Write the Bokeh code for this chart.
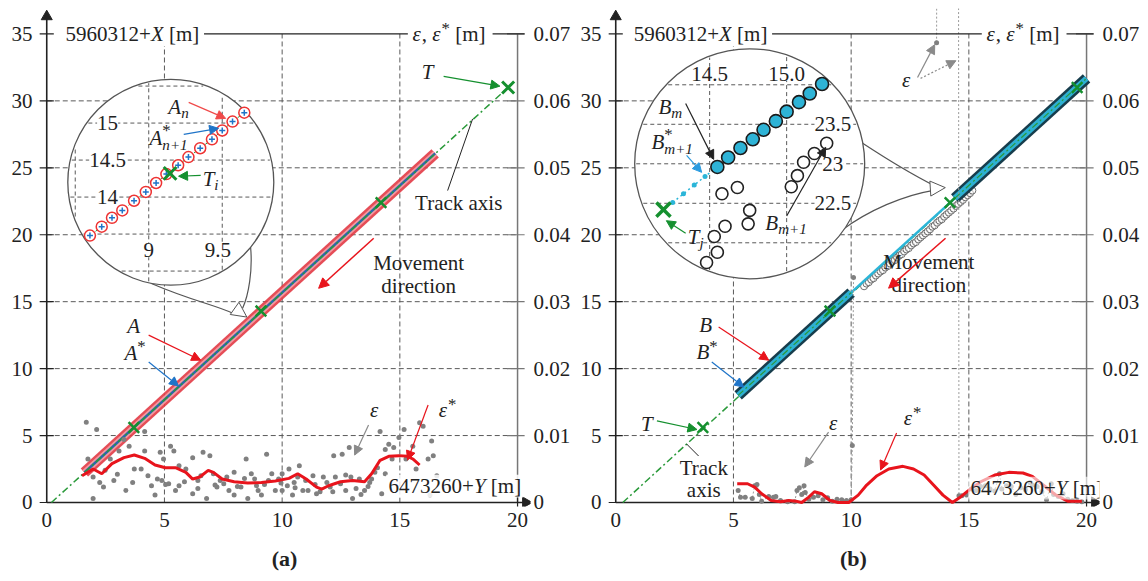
import math
import numpy as np
from bokeh.plotting import figure
from bokeh.layouts import row
from bokeh.models import Range1d, LinearAxis, FixedTicker, Label, Arrow, NormalHead, PrintfTickFormatter
from bokeh.embed import file_html
from bokeh.resources import INLINE

FONT = "Liberation Serif"
FS = 21
INK = "#222222"
RED = "#e8141c"
GREEN = "#15902f"
BLUE = "#1f74c8"
CYAN = "#2bb5d8"
GRAY = "#808080"
GRID = "#5a5a5a"
NB = "\u00a0"

X0, X1 = -0.35, 20.55
Y0, Y1 = -0.3, 36.9
FW, FH = 492, 498
PXX = FW / (X1 - X0)
PXY = FH / (Y1 - Y0)
EPS_SCALE = 0.002   # 0.07 m (right axis) <-> 35 m (left axis)

# ---------------- data ----------------
y_ticks = [0, 5, 10, 15, 20, 25, 30, 35]
x_ticks = [0, 5, 10, 15, 20]
eps_ticks = [0, 0.01, 0.02, 0.03, 0.04, 0.05, 0.06, 0.07]
grid_x = [5, 10, 15]
grid_y = [5, 10, 15, 20, 25, 30]

# panel (a)
track_a_x = [0.2, 19.6]
track_a_y = [0.0, 31.0]
T_a_x = [3.7, 9.1, 14.2]
T_a_y = [5.6, 14.3, 22.4]
Tend_x = [19.6]
Tend_y = [31.0]
A_x = [1.6, 16.5]
A_y = [2.24, 26.08]
eps_a_x = [1.68, 2.12, 1.75, 1.97, 2.48, 2.70, 3.07, 3.28, 3.50, 2.85,
           3.36, 3.65, 4.16, 4.16, 4.01, 4.45, 4.82, 4.96, 5.26, 5.40,
           5.62, 4.60, 5.18, 6.20, 5.91, 6.42, 6.20, 6.64, 6.93, 7.08,
           7.37, 7.74, 7.96, 8.47, 8.69, 8.91, 9.12, 9.34, 9.56, 9.85,
           10.00, 10.29, 10.51, 10.73, 10.88, 11.31, 11.46, 11.90, 12.19, 12.26,
           12.55, 12.70, 12.85, 12.99, 13.28, 13.72, 14.16, 14.23, 14.38, 14.53,
           14.74, 14.96, 15.18, 15.55, 15.84, 15.99, 16.35, 16.42, 16.28,
           5.62, 6.42, 7.23, 7.52, 8.25, 8.54, 8.98, 9.42, 9.71, 10.22,
           10.44, 11.10, 11.61, 12.04, 12.48, 13.14, 13.50, 13.80, 13.94, 14.38,
           14.67, 15.26, 15.69, 1.97, 2.41, 3.72, 4.30, 4.89, 5.47, 6.79,
           7.96, 8.83, 10.00, 10.66, 11.75, 12.92, 16.20, 16.57,
           2.25, 3.00, 4.70, 5.05, 5.85, 6.55, 7.15, 7.65, 8.10, 8.40,
           9.25, 9.95, 10.55, 11.00, 11.40, 12.15, 12.70, 13.35, 13.65, 14.05]
eps_a_y = [0.0120, 0.0109, 0.0065, 0.0038, 0.0048, 0.0065, 0.0077, 0.0094, 0.0084, 0.0033,
           0.0018, 0.0030, 0.0106, 0.0077, 0.0050, 0.0025, 0.0075, 0.0065, 0.0084, 0.0077,
           0.0055, 0.0011, 0.0028, 0.0067, 0.0050, 0.0033, 0.0013, 0.0075, 0.0070, 0.0043,
           0.0033, 0.0018, 0.0045, 0.0065, 0.0043, 0.0025, 0.0011, 0.0072, 0.0043, 0.0035,
           0.0018, 0.0050, 0.0030, 0.0055, 0.0018, 0.0040, 0.0013, 0.0030, 0.0070, 0.0038,
           0.0072, 0.0018, 0.0082, 0.0006, 0.0035, 0.0030, 0.0106, 0.0013, 0.0079, 0.0087,
           0.0082, 0.0097, 0.0109, 0.0084, 0.0119, 0.0114, 0.0092, 0.0070, 0.0011,
           0.0025, 0.0021, 0.0023, 0.0028, 0.0023, 0.0006, 0.0018, 0.0033, 0.0018, 0.0025,
           0.0011, 0.0018, 0.0016, 0.0023, 0.0028, 0.0021, 0.0018, 0.0035, 0.0045, 0.0043,
           0.0065, 0.0065, 0.0050, 0.0006, 0.0023, 0.0050, 0.0040, 0.0033, 0.0018, 0.0006,
           0.0011, 0.0035, 0.0043, 0.0038, 0.0038, 0.0038, 0.0065, 0.0040,
           0.0030, 0.0042, 0.0035, 0.0027, 0.0031, 0.0040, 0.0026, 0.0038, 0.0024, 0.0036,
           0.0027, 0.0029, 0.0022, 0.0033, 0.0027, 0.0016, 0.0041, 0.0012, 0.0024, 0.0052]
epsstar_a_x = [1.50, 1.97, 2.34, 2.77, 3.28, 3.72, 4.16, 4.60, 5.04, 5.47, 5.91, 6.20,
               6.50, 6.86, 7.08, 7.45, 7.96, 8.54, 9.12, 9.71, 10.29, 10.66, 11.02, 11.46,
               11.68, 11.97, 12.48, 12.99, 13.50, 13.80, 14.16, 14.53, 14.96, 15.33, 15.55, 15.84]
epsstar_a_y = [0.0040, 0.0050, 0.0043, 0.0058, 0.0067, 0.0071, 0.0066, 0.0056, 0.0052, 0.0052,
               0.0045, 0.0035, 0.0038, 0.0048, 0.0045, 0.0035, 0.0031, 0.0029, 0.0030, 0.0032,
               0.0036, 0.0043, 0.0035, 0.0023, 0.0020, 0.0025, 0.0031, 0.0033, 0.0031, 0.0043,
               0.0063, 0.0069, 0.0070, 0.0069, 0.0065, 0.0056]
# inset (a), in its own zoomed coordinates
ins_a_x = [8.60, 8.68, 8.75, 8.82, 8.90, 8.98, 9.05, 9.12, 9.20, 9.27, 9.35, 9.43, 9.50, 9.57, 9.65]
ins_a_y = [13.48, 13.60, 13.72, 13.82, 13.95, 14.07, 14.19, 14.31, 14.43, 14.54, 14.66, 14.78, 14.90, 15.02, 15.14]
ins_a_Ti_x = [9.145]
ins_a_Ti_y = [14.32]
ins_a_gx = [8.5, 9.0, 9.5]
ins_a_gy = [13.0, 13.5, 14.0, 14.5, 15.0, 15.5]
ins_a_xlab = ["9", "9.5"]
ins_a_xlab_v = [9.0, 9.47]
ins_a_ylab = ["14", "14.5", "15"]
ins_a_ylab_v = [14.0, 14.5, 15.0]

# panel (b)
track_b_x = [0.3, 20.0]
track_b_y = [0.0, 31.68]
T_b_x = [3.7, 9.1, 14.2, 19.6]
T_b_y = [5.6, 14.3, 22.4, 31.0]
B1_x = [5.2, 10.0]
B1_y = [8.0, 15.68]
B2_x = [14.4, 20.0]
B2_y = [22.72, 31.68]
Bthin_x = [10.0, 14.4]
Bthin_y = [15.68, 22.72]
raw_b_x = [10.55, 10.65, 10.75, 10.85, 10.95, 11.05, 11.15, 11.25, 11.35, 11.45, 11.55, 11.65,
           11.75, 11.85, 11.95, 12.05, 12.15, 12.25, 12.35, 12.45, 12.55, 12.65, 12.75, 12.85,
           12.95, 13.05, 13.15, 13.25, 13.35, 13.45, 13.55, 13.65, 13.75, 13.85, 13.95, 14.05,
           14.15, 14.25, 14.35, 14.45, 14.55, 14.65, 14.75, 14.85, 14.95, 15.05, 15.15]
raw_b_y = [16.15, 16.35, 16.45, 16.65, 16.75, 16.95, 17.10, 17.25, 17.35, 17.55, 17.65, 17.85,
           18.00, 18.10, 18.30, 18.45, 18.55, 18.75, 18.90, 19.00, 19.20, 19.35, 19.45, 19.65,
           19.80, 19.95, 20.10, 20.25, 20.40, 20.60, 20.70, 20.90, 21.05, 21.15, 21.35, 21.50,
           21.65, 21.80, 21.95, 22.15, 22.30, 22.45, 22.60, 22.80, 22.95, 23.10, 23.30]
nan = float("nan")
eps_b_x = [5.20, 5.30, 5.50, 5.80, 5.90, 6.00, 6.10, 6.20, 6.50, 6.70,
           6.80, 7.00, 7.30, 7.60, 7.70, 7.80, 7.90, 8.00, 8.05, 8.20,
           8.40, 8.60, 8.80, 9.00, 9.20, 9.40, 9.60, 9.80, 10.00, 10.05, 10.10,
           nan, 13.63, 13.64, nan,
           14.56, 14.58, 14.70, 14.90, 15.10, 15.30, 15.50, 15.70, 15.90, 16.10,
           16.30, 16.40, 16.60, 16.80, 17.00, 17.20, 17.40, 17.60, 17.70, 17.90,
           18.10, 18.30, 18.50, 18.60, 18.80, 19.00, 19.20, 19.40, 19.60, 19.80]
eps_b_y = [0.0018, 0.0008, 0.0008, 0.0006, 0.0025, 0.0027, 0.0012, 0.0002, 0.0009, 0.0008,
           0.0009, 0.0003, 0.0001, 0.0001, 0.0018, 0.0022, 0.0012, 0.0025, 0.0015, 0.0005,
           0.0008, 0.0010, 0.0004, 0.0007, 0.0002, 0.0005, 0.0004, 0.0003, 0.0004, 0.0085, 0.0336,
           nan, 0.0687, 0.0900, nan,
           0.0900, 0.0010, 0.0010, 0.0011, 0.0020, 0.0018, 0.0024, 0.0025, 0.0020, 0.0017,
           0.0043, 0.0020, 0.0025, 0.0024, 0.0012, 0.0022, 0.0019, 0.0030, 0.0026, 0.0024,
           0.0016, 0.0004, 0.0028, 0.0012, 0.0009, 0.0013, 0.0005, 0.0003, 0.0002, 0.0001]
epsstar_b_x = [5.16, 5.60, 5.90, 6.20, 6.60, 7.00, 7.35, 7.65, 7.90, 8.20, 8.44, 8.75,
               9.10, 9.44, 9.90, 10.30, 10.66, 11.10, 11.60, 12.20, 12.65, 13.10, 13.50, 13.90,
               14.30, 14.60, 14.95, 15.50, 16.10, 16.70, 17.30, 17.70, 18.20, 18.70, 19.20, 19.80]
epsstar_b_y = [0.0028, 0.0028, 0.0023, 0.0013, 0.0003, 0.0001, 0.0003, 0.0002, 0.0000, 0.0008,
               0.0016, 0.0013, 0.0003, 0.0000, 0.0000, 0.0011, 0.0026, 0.0040, 0.0050, 0.0054,
               0.0050, 0.0041, 0.0026, 0.0011, 0.0000, 0.0007, 0.0017, 0.0031, 0.0041, 0.0045,
               0.0044, 0.0039, 0.0025, 0.0011, 0.0002, 0.0002]
# inset (b)
ins_b_Bm_x = [14.55, 14.62, 14.70, 14.78, 14.85, 14.93, 15.00, 15.08, 15.15, 15.23]
ins_b_Bm_y = [22.96, 23.08, 23.20, 23.31, 23.43, 23.54, 23.66, 23.78, 23.89, 24.01]
ins_b_Bs_x = [14.26, 14.33, 14.40, 14.47]
ins_b_Bs_y = [22.51, 22.62, 22.73, 22.84]
ins_b_raw_x = [14.48, 14.55, 14.53, 14.60, 14.75, 14.76, 14.58, 14.68, 15.03, 15.07, 15.11, 15.18, 15.26]
ins_b_raw_y = [21.75, 21.88, 22.08, 22.21, 22.24, 22.41, 22.62, 22.70, 22.71, 22.85, 23.02, 23.13, 23.26]
ins_b_Tj_x = [14.20]
ins_b_Tj_y = [22.42]
ins_b_gx = [14.5, 15.0]
ins_b_gy = [22.0, 22.5, 23.0, 23.5, 24.0]
ins_b_xlab = ["14.5", "15.0"]
ins_b_xlab_v = [14.5, 15.0]
ins_b_ylab = ["22.5", "23", "23.5"]
ins_b_ylab_v = [22.5, 23.0, 23.5]

# ---------------- helpers ----------------
WID = {'+': 0.564, '[': 0.333, ']': 0.333, 'm': 0.778, ',': 0.25, '.': 0.25, '*': 0.5,
       'X': 0.611, 'Y': 0.556, 'A': 0.611, 'B': 0.611, 'T': 0.556, 'n': 0.5, 'i': 0.278,
       'j': 0.278, 'ε': 0.44, ' ': 0.25, NB: 0.25}


def text_w(s, size):
    return sum(WID.get(c, 0.5) for c in s) * size


def P(text, style="normal", rel=1.0, dy=0.0, adv=True, gap=0.0):
    return (text, style, rel, dy, adv, gap)


def rich(p, x, y, parts, align="left", color=INK, bg=None):
    total = 0.0
    for t, st, rel, dy, adv, gap in parts:
        total += gap * FS + (text_w(t, FS * rel) if adv else 0)
    xo = -total / 2 if align == "center" else 0.0
    for t, st, rel, dy, adv, gap in parts:
        xo += gap * FS
        kw = dict(background_fill_color=bg) if bg else {}
        p.add_layout(Label(x=x, y=y, x_offset=xo, y_offset=dy, text=t, text_font=FONT,
                           text_font_size=f"{FS * rel:.1f}px", text_font_style=st,
                           text_color=color, text_align="left", text_baseline="middle", **kw))
        if adv:
            xo += text_w(t, FS * rel)
    return total


def label(p, x, y, text, size=FS, align="center", color=INK, bg=None, style="normal"):
    kw = dict(background_fill_color=bg) if bg else {}
    p.add_layout(Label(x=x, y=y, text=text, text_font=FONT, text_font_size=f"{size}px",
                       text_font_style=style, text_color=color, text_align=align,
                       text_baseline="middle", **kw))


def arrow(p, x0, y0, x1, y1, color, dash="solid", size=9, width=1.2, fill=None):
    p.add_layout(Arrow(x_start=x0, y_start=y0, x_end=x1, y_end=y1, line_color=color,
                       line_width=width, line_dash=dash,
                       end=NormalHead(size=size, fill_color=fill or color, line_color=color,
                                      line_width=1)))


def style_axis(ax, standoff):
    ax.axis_line_color = None
    ax.major_tick_line_color = None
    ax.minor_tick_line_color = None
    ax.major_tick_in = 0
    ax.major_tick_out = 0
    ax.major_label_text_font = FONT
    ax.major_label_text_font_size = f"{FS}px"
    ax.major_label_text_color = INK
    ax.major_label_standoff = standoff


def base_fig(lb, rb, caption):
    p = figure(frame_width=FW, frame_height=FH, x_range=Range1d(X0, X1), y_range=Range1d(Y0, Y1),
               output_backend="svg", toolbar_location=None,
               min_border_left=lb, min_border_right=rb, min_border_top=8, min_border_bottom=74)
    p.extra_y_ranges = {"eps": Range1d(Y0 * EPS_SCALE, Y1 * EPS_SCALE)}
    p.outline_line_color = None
    p.xgrid.visible = False
    p.ygrid.visible = False
    p.xaxis.ticker = FixedTicker(ticks=x_ticks)
    p.yaxis.ticker = FixedTicker(ticks=y_ticks)
    style_axis(p.xaxis[0], 6)
    style_axis(p.yaxis[0], 6)
    p.xaxis.axis_label = caption
    p.xaxis.axis_label_text_font = FONT
    p.xaxis.axis_label_text_font_size = "22px"
    p.xaxis.axis_label_text_font_style = "bold"
    p.xaxis.axis_label_text_color = INK
    p.xaxis.axis_label_standoff = 16
    r_ax = LinearAxis(y_range_name="eps", ticker=FixedTicker(ticks=eps_ticks),
                      formatter=PrintfTickFormatter(format="%.2f"),
                      major_label_overrides={0: "0"})
    style_axis(r_ax, 3)
    p.add_layout(r_ax, "right")

    # grid
    p.segment(x0=grid_x, y0=[0] * len(grid_x), x1=grid_x, y1=[35] * len(grid_x),
              line_color=GRID, line_width=1, line_dash="5 3")
    p.segment(x0=[0] * len(grid_y), y0=grid_y, x1=[20] * len(grid_y), y1=grid_y,
              line_color=GRID, line_width=1, line_dash="5 3")
    # axes lines + ticks
    p.segment(x0=[-0.3] * len(y_ticks), y0=y_ticks, x1=[0.3] * len(y_ticks), y1=y_ticks,
              line_color=INK, line_width=1.2)
    p.segment(x0=[19.55] * len(eps_ticks), y0=eps_ticks, x1=[20.3] * len(eps_ticks), y1=eps_ticks,
              line_color="#777777", line_width=1.2, y_range_name="eps")
    p.line([20, 20], [0, 35], line_color="#777777", line_width=1.5)
    p.line([0, 0], [0, 36.4], line_color=INK, line_width=1.6)
    p.line([0, 20.3], [0, 0], line_color=INK, line_width=1.6)
    p.segment(x0=[20], y0=[-0.45], x1=[20], y1=[0.45], line_color=INK, line_width=1.2)
    p.scatter([0], [36.3], marker="triangle", size=11, fill_color=INK, line_color=INK)
    p.scatter([20.35], [0], marker="triangle", angle=-math.pi / 2, size=11,
              fill_color=INK, line_color=INK)
    return p


def top_labels(p, x_left, x_right):
    w = rich(p, x_left, 35, [P("5960312+"), P("X", "italic"), P(NB + "[m]")], bg="white")
    x_end = x_left + w / PXX + 0.2
    p.line([x_end, x_right - 0.2], [35, 35], line_color=INK, line_width=1.2)
    w2 = rich(p, x_right, 35, [P("ε", "italic"), P("," + NB), P("ε", "italic"),
                               P("*", rel=0.8, dy=5), P(NB + "[m]")], bg="white")
    p.line([x_right + w2 / PXX + 0.3, 20.3], [35, 35], line_color=INK, line_width=1.2)


def bottom_label(p, x, y, alpha):
    parts = [P("6473260+"), P("Y", "italic"), P(NB + "[m]")]
    w = sum(text_w(t, FS * r) + g * FS for t, s, r, d, a, g in parts)
    p.quad(left=[x - 0.1], right=[x + w / PXX + 0.1], bottom=[y - 0.85], top=[y + 0.85],
           fill_color="white", fill_alpha=alpha, line_color=None)
    rich(p, x, y, parts)


def inset(p, ins, gx, gy, xlab, xlab_v, xlab_y, ylab, ylab_v, ylab_x):
    icx, icy, sx, sy, cx, cy, r = ins

    def m(ix, iy):
        return (cx + (np.asarray(ix, float) - icx) * sx / PXX,
                cy + (np.asarray(iy, float) - icy) * sy / PXY)

    p.scatter([cx], [cy], marker="circle", size=2 * r, fill_color="white",
              line_color="#555555", line_width=1.3)
    rr = r - 1.5
    vx0, vy0, vx1, vy1 = [], [], [], []
    for g in gx:
        dxp = (g - icx) * sx
        h = math.sqrt(max(rr ** 2 - dxp ** 2, 0)) / sy
        a, b = m([g, g], [icy - h, icy + h])
        vx0.append(a[0]); vy0.append(b[0]); vx1.append(a[1]); vy1.append(b[1])
    for g in gy:
        dyp = (g - icy) * sy
        h = math.sqrt(max(rr ** 2 - dyp ** 2, 0)) / sx
        a, b = m([icx - h, icx + h], [g, g])
        vx0.append(a[0]); vy0.append(b[0]); vx1.append(a[1]); vy1.append(b[1])
    p.segment(x0=vx0, y0=vy0, x1=vx1, y1=vy1, line_color=GRID, line_width=1, line_dash="4 3")
    for t, v in zip(xlab, xlab_v):
        a, b = m([v], [xlab_y])
        label(p, float(a[0]), float(b[0]), t, bg="white")
    for t, v in zip(ylab, ylab_v):
        a, b = m([ylab_x], [v])
        label(p, float(a[0]), float(b[0]), t, bg="white")
    return m


# ================= panel (a) =================
pa = base_fig(38, 44, "(a)")
pa.line(A_x, A_y, line_color="#e23a45", line_width=11, line_alpha=0.9)
pa.line(A_x, A_y, line_color="#f49aa0", line_width=6)
pa.line(A_x, A_y, line_color="#2b66ad", line_width=2.5)
pa.line(track_a_x, track_a_y, line_color="#2a9a3a", line_width=1.5, line_dash="7 3 2 3")
pa.scatter(T_a_x, T_a_y, marker="x", size=15, line_color=GREEN, line_width=2.5)
pa.scatter(Tend_x, Tend_y, marker="x", size=17, line_color=GREEN, line_width=3)
pa.scatter(eps_a_x, eps_a_y, y_range_name="eps", marker="circle", size=5,
           fill_color=GRAY, line_color=None)
pa.line(epsstar_a_x, epsstar_a_y, y_range_name="eps", line_color=RED, line_width=3)
bottom_label(pa, 14.52, 1.23, 0.85)
top_labels(pa, 0.8, 15.54)

# callout tail (a)
pa.bezier(x0=[4.42, 8.66], y0=[16.38, 19.07], x1=[7.9, 8.32], y1=[14.14, 14.51],
          cx0=[6.11, 8.75], cy0=[15.1, 17.35], cx1=[7.18, 8.58], cy1=[14.74, 15.49],
          line_color="#555555", line_width=1.2)
arrow(pa, 8.1, 14.35, 8.5, 13.85, "#555555", size=15, fill="white", width=0.01)
ins_a = (9.15, 14.2, 147, 74, 5.27, 23.92, 103)
ma = inset(pa, ins_a, ins_a_gx, ins_a_gy, ins_a_xlab, ins_a_xlab_v, 13.28,
           ins_a_ylab, ins_a_ylab_v, 8.72)
ix, iy = ma(ins_a_x, ins_a_y)
pa.line(list(ix), list(iy), line_color="#2a9a3a", line_width=1, line_dash="4 3")
pa.scatter(list(ix), list(iy), marker="circle", size=11, fill_color="white",
           line_color="#e33", line_width=1.5)
pa.scatter(list(ix), list(iy), marker="cross", size=6, line_color=BLUE, line_width=1.5)
tx, ty = ma(ins_a_Ti_x, ins_a_Ti_y)
pa.scatter(list(tx), list(ty), marker="x", size=18, line_color=GREEN, line_width=3)

# annotations (a)
rich(pa, 16.18, 32.13, [P("T", "italic")], align="center")
arrow(pa, 16.86, 31.83, 19.25, 31.1, GREEN)
label(pa, 17.5, 22.35, "Track axis")
pa.line([17.03, 18.09], [23.3, 28.65], line_color=INK, line_width=1)
label(pa, 15.8, 17.87, "Movement")
label(pa, 15.8, 16.2, "direction")
arrow(pa, 13.89, 19.74, 11.55, 16.0, RED, size=10, width=1.5)
rich(pa, 3.69, 13.17, [P("A", "italic")], align="center")
arrow(pa, 4.33, 12.5, 6.54, 10.63, RED)
rich(pa, 3.75, 11.2, [P("A", "italic"), P("*", rel=0.8, dy=6)], align="center")
arrow(pa, 4.33, 10.5, 5.6, 8.7, BLUE)
rich(pa, 13.93, 6.9, [P("ε", "italic")], align="center")
arrow(pa, 13.67, 5.78, 13.08, 3.54, "#8a8a8a")
rich(pa, 17.03, 6.9, [P("ε", "italic"), P("*", rel=0.8, dy=6)], align="center")
arrow(pa, 16.2, 7.28, 15.33, 3.17, RED)
rich(pa, 5.6, 29.51, [P("A", "italic"), P("n", "italic", rel=0.72, dy=-6)], align="center")
arrow(pa, 6.03, 29.89, 7.6, 28.69, "#f04a4a")
rich(pa, 5.14, 27.2, [P("A", "italic"), P("*", rel=0.8, dy=8, adv=False),
                      P("n+1", "italic", rel=0.72, dy=-7)], align="center")
arrow(pa, 5.82, 27.5, 7.3, 27.95, BLUE)
rich(pa, 6.96, 24.2, [P("T", "italic"), P("i", "italic", rel=0.72, dy=-6)], align="center")
arrow(pa, 6.54, 24.44, 5.6, 24.37, GREEN)

# ================= panel (b) =================
pb = base_fig(33, 41, "(b)")
pb.line(track_b_x, track_b_y, line_color="#2a9a3a", line_width=1.5, line_dash="7 3 2 3")
pb.scatter(raw_b_x, raw_b_y, marker="circle", size=7, fill_color="white", fill_alpha=0.5,
           line_color="#6f6f6f", line_width=1)
for bx, by in ((B1_x, B1_y), (B2_x, B2_y)):
    pb.line(bx, by, line_color="#173d4c", line_width=11)
    pb.line(bx, by, line_color="#2eb0d2", line_width=6)
pb.line(Bthin_x, Bthin_y, line_color=CYAN, line_width=2.5)
pb.line(B1_x, B1_y, line_color="#2a9a3a", line_width=1.2, line_dash="7 3 2 3")
pb.line(B2_x, B2_y, line_color="#2a9a3a", line_width=1.2, line_dash="7 3 2 3")
pb.scatter(T_b_x, T_b_y, marker="x", size=15, line_color=GREEN, line_width=2.5)
pb.line(eps_b_x, eps_b_y, y_range_name="eps", line_color="#9a9a9a", line_width=1,
        line_dash="2 2")
pb.scatter(eps_b_x, eps_b_y, y_range_name="eps", marker="circle", size=5,
           fill_color=GRAY, line_color=None)
pb.line(epsstar_b_x, epsstar_b_y, y_range_name="eps", line_color=RED, line_width=3)
bottom_label(pb, 15.07, 1.08, 0.62)
top_labels(pb, 0.76, 15.75)

# callout tail (b)
pb.bezier(x0=[10.49, 9.6], y0=[26.84, 20.34], x1=[13.59, 13.5], y1=[23.62, 23.32],
          cx0=[11.59, 10.74], cy0=[25.57, 21.83], cx1=[12.65, 12.23], cy1=[24.45, 22.95],
          line_color="#555555", line_width=1.2)
arrow(pb, 13.55, 23.47, 14.0, 23.52, "#555555", size=15, fill="white", width=0.01)
ins_b = (14.76, 23.0, 154, 79, 5.69, 25.3, 115)
mb = inset(pb, ins_b, ins_b_gx, ins_b_gy, ins_b_xlab, ins_b_xlab_v, 24.14,
           ins_b_ylab, ins_b_ylab_v, 15.3)
sx_, sy_ = mb(ins_b_Bs_x + ins_b_Bm_x, ins_b_Bs_y + ins_b_Bm_y)
pb.line(list(sx_), list(sy_), line_color=CYAN, line_width=1.5, line_dash="2 3")
bx_, by_ = mb(ins_b_Bs_x, ins_b_Bs_y)
pb.scatter(list(bx_), list(by_), marker="circle", size=5, fill_color=CYAN, line_color=None)
rx_, ry_ = mb(ins_b_raw_x, ins_b_raw_y)
pb.scatter(list(rx_), list(ry_), marker="circle", size=12, fill_color="white",
           line_color="#222222", line_width=1.6)
mx_, my_ = mb(ins_b_Bm_x, ins_b_Bm_y)
pb.scatter(list(mx_), list(my_), marker="circle", size=13, fill_color="#2eb3d6",
           line_color="#1a1a1a", line_width=1.6)
tjx, tjy = mb(ins_b_Tj_x, ins_b_Tj_y)
pb.scatter(list(tjx), list(tjy), marker="x", size=20, line_color=GREEN, line_width=3.5)

# annotations (b)
rich(pb, 2.34, 29.51, [P("B", "italic"), P("m", "italic", rel=0.72, dy=-6)], align="center")
arrow(pb, 2.97, 29.81, 4.16, 25.63, INK)
rich(pb, 2.38, 26.9, [P("B", "italic"), P("*", rel=0.8, dy=8, adv=False),
                      P("m+1", "italic", rel=0.72, dy=-7)], align="center")
arrow(pb, 3.01, 25.93, 3.65, 24.66, "#2a9be0")
rich(pb, 3.4, 19.81, [P("T", "italic"), P("j", "italic", rel=0.72, dy=-6)], align="center")
arrow(pb, 2.97, 20.11, 2.15, 21.05, GREEN)
rich(pb, 7.22, 20.86, [P("B", "italic"), P("m+1", "italic", rel=0.72, dy=-6)], align="center")
arrow(pb, 7.26, 21.4, 8.92, 26.53, INK)
rich(pb, 3.82, 13.25, [P("B", "italic")], align="center")
arrow(pb, 4.37, 13.1, 6.5, 10.63, RED)
rich(pb, 3.88, 11.23, [P("B", "italic"), P("*", rel=0.8, dy=6)], align="center")
arrow(pb, 4.08, 10.49, 5.44, 8.62, BLUE)
rich(pb, 1.32, 5.86, [P("T", "italic")], align="center")
arrow(pb, 1.75, 6.1, 3.45, 5.45, GREEN)
label(pb, 3.74, 2.57, "Track")
label(pb, 3.74, 0.93, "axis")
pb.line([3.52, 3.01], [3.47, 4.37], line_color=INK, line_width=1)
label(pb, 13.3, 17.95, "Movement")
label(pb, 13.3, 16.23, "direction")
arrow(pb, 14.01, 19.74, 11.59, 16.01, RED, size=10, width=1.5)
rich(pb, 9.26, 5.93, [P("ε", "italic")], align="center")
arrow(pb, 9.04, 5.26, 8.03, 2.65, "#8a8a8a")
rich(pb, 12.61, 6.3, [P("ε", "italic"), P("*", rel=0.8, dy=6)], align="center")
arrow(pb, 11.93, 5.19, 11.25, 2.43, RED)
rich(pb, 12.36, 31.53, [P("ε", "italic")], align="center")
arrow(pb, 12.82, 31.75, 13.55, 34.2, "#8a8a8a")
arrow(pb, 12.95, 31.68, 14.45, 33.0, "#8a8a8a", dash="2 2")

layout = row(pa, pb)
open("out.html", "w").write(file_html(layout, INLINE))
